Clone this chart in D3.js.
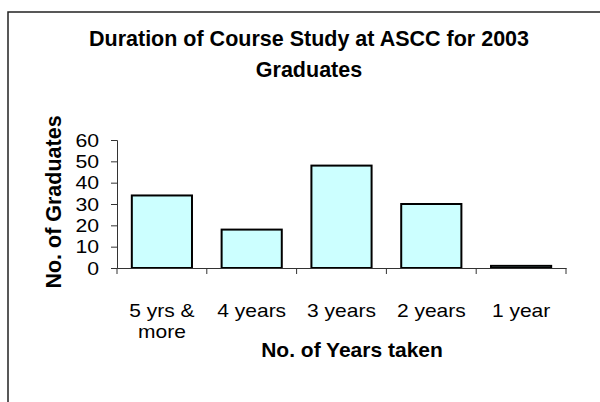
<!DOCTYPE html>
<html>
<head>
<meta charset="utf-8">
<script src="https://cdnjs.cloudflare.com/ajax/libs/d3/7.8.5/d3.min.js"></script>
<style>
  html, body { margin: 0; padding: 0; background: #fff; }
  svg { display: block; font-family: Arial, "Liberation Sans", sans-serif; }
</style>
</head>
<body>
<div id="chart"></div>
<script>
// data
const categories = ['5 yrs & more', '4 years', '3 years', '2 years', '1 year'];
const tickLines = [['5 yrs &', 'more'], ['4 years'], ['3 years'], ['2 years'], ['1 year']];
const graduates = [34, 18, 48, 30, 1];
const yTicks = [0, 10, 20, 30, 40, 50, 60];
const titleLines = ['Duration of Course Study at ASCC for 2003', 'Graduates'];

const W = 600, H = 402;
const stretch = 1.18; // plain labels are drawn a bit wider than the font

const svg = d3.select('#chart').append('svg')
    .attr('width', W)
    .attr('height', H);

// chart frame (runs off the right and bottom edge)
svg.append('rect')
    .attr('x', 8).attr('y', 12)
    .attr('width', 640).attr('height', 420)
    .attr('fill', 'none')
    .attr('stroke', '#222')
    .attr('stroke-width', 1.5);

const plot = { left: 117, right: 566, top: 140, bottom: 268 };

const x = d3.scaleBand()
    .domain(categories)
    .range([plot.left, plot.right]);

const y = d3.scaleLinear()
    .domain([0, 60])
    .range([plot.bottom, plot.top]);

// place a text and widen it horizontally
function put(sel, px, py, sx) {
    sel.attr('transform', `translate(${px},${py}) scale(${sx},1)`);
}

// title
titleLines.forEach((t, i) => {
    svg.append('text')
        .attr('x', 309)
        .attr('y', 46 + i * 31)
        .attr('text-anchor', 'middle')
        .attr('font-size', 21.5)
        .attr('font-weight', 'bold')
        .text(t);
});

// bars
const barW = x.bandwidth() * 0.67;
svg.selectAll('rect.bar')
    .data(graduates)
    .enter()
    .append('rect')
    .attr('class', 'bar')
    .attr('x', (d, i) => x(categories[i]) + (x.bandwidth() - barW) / 2)
    .attr('y', d => y(d))
    .attr('width', barW)
    .attr('height', d => y(0) - y(d))
    .attr('fill', '#ccffff')
    .attr('stroke', '#000')
    .attr('stroke-width', 2);

// y axis
const yAxis = svg.append('g')
    .attr('transform', `translate(${plot.left},0)`)
    .call(d3.axisLeft(y).tickValues(yTicks).tickSize(6).tickFormat(''));
yAxis.select('.domain').attr('stroke', '#333');
yAxis.selectAll('.tick line').attr('stroke', '#333');

yTicks.forEach(v => {
    svg.append('text')
        .attr('text-anchor', 'end')
        .attr('font-size', 18)
        .attr('fill', '#000')
        .text(v)
        .call(put, 99, y(v) + 6.5, 1.18);
});

// x axis, ticks sit between the categories
const xAxis = svg.append('g')
    .attr('transform', `translate(0,${plot.bottom})`)
    .call(d3.axisBottom(x).tickSize(0).tickFormat(''));
xAxis.select('.domain').attr('stroke', '#333');
xAxis.selectAll('.tick').remove();
const edges = categories.map(c => x(c)).concat([plot.right]);
xAxis.selectAll('line.sep')
    .data(edges)
    .enter()
    .append('line')
    .attr('class', 'sep')
    .attr('x1', d => d).attr('x2', d => d)
    .attr('y1', 0).attr('y2', 6)
    .attr('stroke', '#333');

tickLines.forEach((lines, i) => {
    lines.forEach((t, j) => {
        svg.append('text')
            .attr('text-anchor', 'middle')
            .attr('font-size', 17.8)
            .text(t)
            .call(put, x(categories[i]) + x.bandwidth() / 2, 316.5 + j * 21, stretch);
    });
});

// axis titles
svg.append('text')
    .attr('x', 352)
    .attr('y', 357)
    .attr('text-anchor', 'middle')
    .attr('font-size', 21)
    .attr('font-weight', 'bold')
    .text('No. of Years taken');

svg.append('text')
    .attr('text-anchor', 'middle')
    .attr('font-size', 21.5)
    .attr('font-weight', 'bold')
    .attr('transform', 'translate(61,202) rotate(-90)')
    .text('No. of Graduates');
</script>
</body>
</html>
